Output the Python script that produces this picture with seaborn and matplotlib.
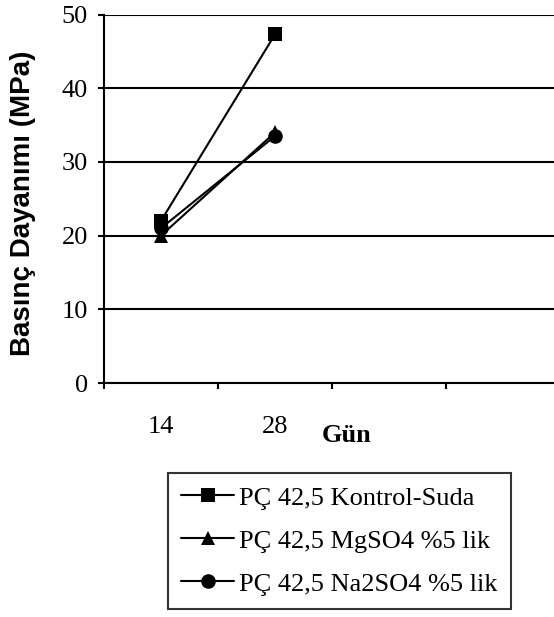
import matplotlib
matplotlib.use("Agg")
import matplotlib.pyplot as plt
import seaborn as sns
import pandas as pd

days = ["14", "28"]
series_names = ["PÇ 42,5 Kontrol-Suda", "PÇ 42,5 MgSO4 %5 lik", "PÇ 42,5 Na2SO4 %5 lik"]
kontrol = [22.0, 47.3]
mgso4 = [20.0, 34.0]
na2so4 = [21.0, 33.5]
markers = ["s", "^", "o"]

sns.set_theme(style="white")
plt.rcParams["font.family"] = ["Liberation Serif", "DejaVu Serif"]

rows = []
for name, vals in zip(series_names, [kontrol, mgso4, na2so4]):
    for i, (d, v) in enumerate(zip(days, vals)):
        rows.append({"pos": i, "day": d, "value": v, "series": name})
df = pd.DataFrame(rows)

W, H = 554, 617
fig = plt.figure(figsize=(W / 100, H / 100), dpi=100)
ax = fig.add_axes([104 / W, (H - 383) / H, (W - 104) / W, (383 - 14.5) / H])

sns.lineplot(data=df, x="pos", y="value", style="series", markers=dict(zip(series_names, markers)),
             dashes=False, color="black", linewidth=1.5, markersize=10.5, markeredgewidth=0,
             ax=ax, legend=True, sort=False)

ax.set_xlim(-0.5, (W - 104) / 114 - 0.5)
ax.set_ylim(0, 50)
ax.set_yticks([0, 10, 20, 30, 40, 50])
ax.yaxis.grid(True, color="black", linewidth=1.5)
ax.xaxis.grid(False)
for s in ["top", "right"]:
    ax.spines[s].set_visible(False)
for s in ["left", "bottom"]:
    ax.spines[s].set_color("black")
    ax.spines[s].set_linewidth(1.5)

ax.set_xticks([-0.5, 0.5, 1.5, 2.5])
ax.set_xticklabels([])
ax.set_xticks([0, 1], minor=True)
ax.set_xticklabels(days, minor=True)
ax.tick_params(axis="x", which="major", direction="out", length=4.5, width=1.5, color="black", bottom=True)
ax.tick_params(axis="x", which="minor", length=0, pad=24, labelsize=19, labelcolor="black", bottom=True)
ax.tick_params(axis="y", which="major", direction="out", length=4.5, width=1.5, color="black",
               pad=7, labelsize=19, labelcolor="black", left=True)

ax.set_xlabel("")
ax.set_ylabel("Basınç Dayanımı (MPa)", family=["Liberation Sans", "DejaVu Sans"],
              fontweight="bold", fontsize=20, color="black")
ax.yaxis.set_label_coords((36 - 104) / (W - 104), 0.487)

fig.text(347 / W, 1 - 436 / H, "Gün", ha="center", va="center", fontsize=19,
         fontweight="bold", color="black")

handles, labels = ax.get_legend_handles_labels()
ax.get_legend().remove()
leg = fig.legend(handles, labels, loc="upper left", bbox_to_anchor=(168 / W, 1 - 473 / H),
                 frameon=True, fancybox=False, fontsize=19, handlelength=2.0,
                 handletextpad=0.2, labelspacing=0.74, borderpad=0.5, borderaxespad=0)
leg.get_frame().set_edgecolor("black")
leg.get_frame().set_linewidth(1.5)
for t in leg.get_texts():
    t.set_color("black")
for h in leg.legend_handles:
    h.set_color("black")
    h.set_linewidth(1.5)

fig.savefig("out.png", dpi=100)
